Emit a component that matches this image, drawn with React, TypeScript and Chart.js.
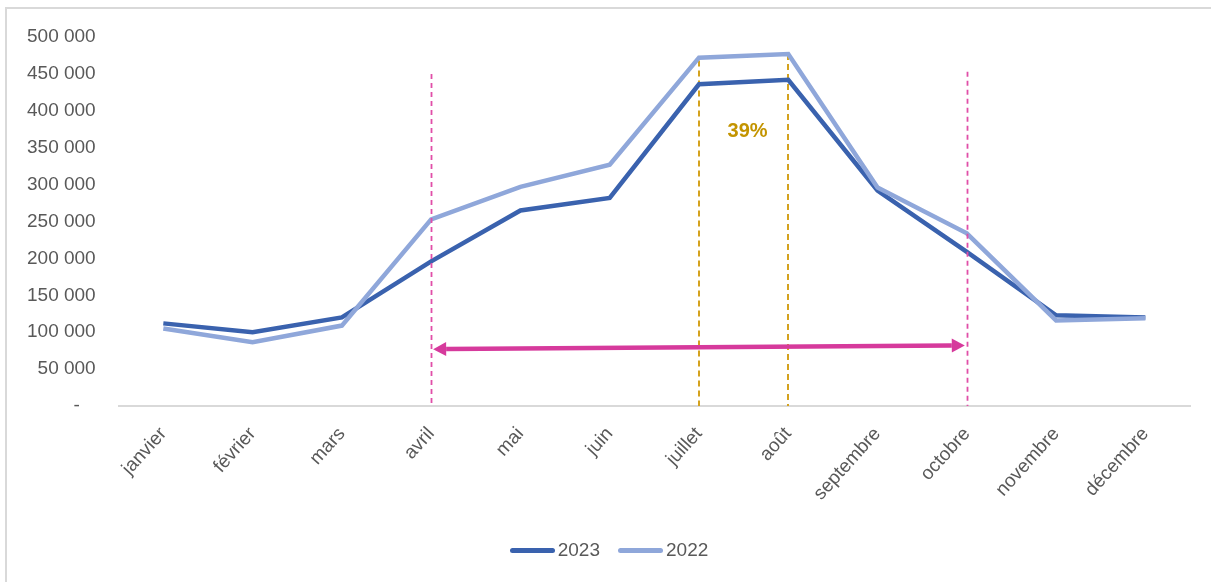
import React, { useEffect, useRef } from "react";
import { Chart, registerables } from "chart.js";

Chart.register(...registerables);

// Monthly totals
const months = [
  "janvier", "février", "mars", "avril", "mai", "juin",
  "juillet", "août", "septembre", "octobre", "novembre", "décembre",
];
const values2023 = [112000, 100000, 120000, 196000, 265000, 282000, 436000, 442000, 292000, 209000, 123000, 120000];
const values2022 = [105000, 86500, 109000, 253000, 297000, 327000, 472000, 477000, 296000, 234000, 116000, 119000];

const yTicks = [0, 50000, 100000, 150000, 200000, 250000, 300000, 350000, 400000, 450000, 500000];

// Season markers (pink) and summer peak markers (gold)
const seasonMonths = ["avril", "octobre"];
const seasonTops = [450000, 453000];
const peakMonths = ["juillet", "août"];
const peakTops = [468000, 477000];
const arrowValues = [77000, 82000];
const peakLabel = "39%";
const peakLabelValue = 372000;

const COLOR_2023 = "#3A62AE";
const COLOR_2022 = "#8FA7DA";
const PINK = "#D63A9C";
const PINK_DASH = "#E04FA8";
const GOLD = "#D4A21E";
const TEXT = "#595959";
const FONT = "'Liberation Sans', Arial, sans-serif";
const Y_TICK_PAD = 23;

const fmt = (v: number) => (v === 0 ? "-   " : v.toLocaleString("fr-FR").replace(/\s/g, " "));

const markers = {
  id: "markers",
  beforeDatasetsDraw(chart: any) {
    const { ctx, scales } = chart;
    const x = scales.x;
    const y = scales.y;
    ctx.save();
    ctx.strokeStyle = GOLD;
    ctx.lineWidth = 2;
    ctx.setLineDash([6, 4]);
    peakMonths.forEach((m, i) => {
      const px = Math.round(x.getPixelForValue(months.indexOf(m)));
      ctx.beginPath();
      ctx.moveTo(px, y.getPixelForValue(peakTops[i]));
      ctx.lineTo(px, y.getPixelForValue(0));
      ctx.stroke();
    });
    ctx.restore();
  },
  afterDatasetsDraw(chart: any) {
    const { ctx, scales } = chart;
    const x = scales.x;
    const y = scales.y;
    ctx.save();
    ctx.lineWidth = 1.8;
    ctx.setLineDash([5, 4]);
    ctx.strokeStyle = PINK_DASH;
    seasonMonths.forEach((m, i) => {
      const px = Math.round(x.getPixelForValue(months.indexOf(m))) + 0.5;
      ctx.beginPath();
      ctx.moveTo(px, y.getPixelForValue(seasonTops[i]));
      ctx.lineTo(px, y.getPixelForValue(0));
      ctx.stroke();
    });
    ctx.setLineDash([]);

    const x1 = x.getPixelForValue(months.indexOf(seasonMonths[0])) + 2;
    const x2 = x.getPixelForValue(months.indexOf(seasonMonths[1])) - 2;
    const y1 = y.getPixelForValue(arrowValues[0]);
    const y2 = y.getPixelForValue(arrowValues[1]);
    const ang = Math.atan2(y2 - y1, x2 - x1);
    const head = 13;
    const half = 7;
    ctx.strokeStyle = PINK;
    ctx.fillStyle = PINK;
    ctx.lineWidth = 4.5;
    ctx.beginPath();
    ctx.moveTo(x1 + head * Math.cos(ang), y1 + head * Math.sin(ang));
    ctx.lineTo(x2 - head * Math.cos(ang), y2 - head * Math.sin(ang));
    ctx.stroke();
    const drawHead = (tx: number, ty: number, dir: number) => {
      const a = ang + dir;
      const bx = tx + head * Math.cos(a);
      const by = ty + head * Math.sin(a);
      ctx.beginPath();
      ctx.moveTo(tx, ty);
      ctx.lineTo(bx - half * Math.sin(a), by + half * Math.cos(a));
      ctx.lineTo(bx + half * Math.sin(a), by - half * Math.cos(a));
      ctx.closePath();
      ctx.fill();
    };
    drawHead(x1, y1, 0);
    drawHead(x2, y2, Math.PI);

    const lx = (x.getPixelForValue(months.indexOf(peakMonths[0])) + x.getPixelForValue(months.indexOf(peakMonths[1]))) / 2;
    ctx.fillStyle = "#C39400";
    ctx.font = "bold 20px 'Liberation Sans Narrow', 'Liberation Sans', Arial, sans-serif";
    ctx.textAlign = "center";
    ctx.textBaseline = "middle";
    ctx.fillText(peakLabel, lx + 4, y.getPixelForValue(peakLabelValue));
    ctx.restore();
  },
};

export default function App() {
  const canvasRef = useRef<HTMLCanvasElement | null>(null);

  useEffect(() => {
    const canvas = canvasRef.current;
    if (!canvas) return;
    const chart = new Chart(canvas, {
      type: "line",
      data: {
        labels: months,
        datasets: [
          {
            label: "2022",
            data: values2022,
            borderColor: COLOR_2022,
            backgroundColor: COLOR_2022,
            borderWidth: 4.5,
            pointRadius: 0,
            tension: 0,
          },
          {
            label: "2023",
            data: values2023,
            borderColor: COLOR_2023,
            backgroundColor: COLOR_2023,
            borderWidth: 4.5,
            pointRadius: 0,
            tension: 0,
          },
        ],
      },
      options: {
        responsive: false,
        animation: false,
        devicePixelRatio: 1,
        layout: { padding: { left: 20, right: 21, top: 28, bottom: 60 } },
        plugins: {
          legend: { display: false },
          tooltip: { enabled: false },
        },
        scales: {
          x: {
            offset: true,
            grid: { display: false, drawTicks: false },
            border: { display: true, color: "#D9D9D9", width: 2 },
            afterFit: (axis: any) => {
              axis.paddingLeft = 0;
              axis.paddingRight = 0;
            },
            ticks: {
              autoSkip: false,
              minRotation: 48,
              maxRotation: 48,
              padding: 17,
              color: TEXT,
              font: { size: 19, family: FONT },
            },
          },
          y: {
            min: 0,
            max: 500000,
            afterBuildTicks: (axis: any) => {
              axis.ticks = yTicks.map((v) => ({ value: v }));
            },
            afterFit: (axis: any) => {
              axis.paddingTop = 0;
              axis.paddingBottom = 0;
              // vertical axes reserve the tick padding on both sides of the labels; keep only one
              axis.width -= Y_TICK_PAD;
            },
            grid: { display: false, drawTicks: false },
            border: { display: false },
            ticks: {
              padding: Y_TICK_PAD,
              color: TEXT,
              font: { size: 19, family: FONT },
              callback: (v: any) => fmt(Number(v)),
            },
          },
        },
      },
      plugins: [markers],
    });
    return () => chart.destroy();
  }, []);

  const legendItems = [
    { label: "2023", color: COLOR_2023 },
    { label: "2022", color: COLOR_2022 },
  ];

  return (
    <>
      <style>{`body{margin:0}`}</style>
      <div
        style={{
          position: "relative",
          marginLeft: 5,
          marginTop: 7,
          width: 1206,
          height: 575,
          boxSizing: "border-box",
          borderLeft: "2px solid #D9D9D9",
          borderTop: "2px solid #D9D9D9",
          background: "#fff",
        }}
      >
        <canvas ref={canvasRef} width={1204} height={573} style={{ position: "absolute", left: 0, top: 0 }} />
        <div
          style={{
            position: "absolute",
            left: 0,
            right: 0,
            top: 530,
            display: "flex",
            justifyContent: "center",
            gap: 18,
            fontFamily: FONT,
            fontSize: 19,
            color: TEXT,
          }}
        >
          {legendItems.map((it) => (
            <div key={it.label} style={{ display: "flex", alignItems: "center", gap: 3 }}>
              <span style={{ display: "inline-block", width: 45, height: 5, borderRadius: 3, background: it.color }} />
              <span>{it.label}</span>
            </div>
          ))}
        </div>
      </div>
    </>
  );
}
